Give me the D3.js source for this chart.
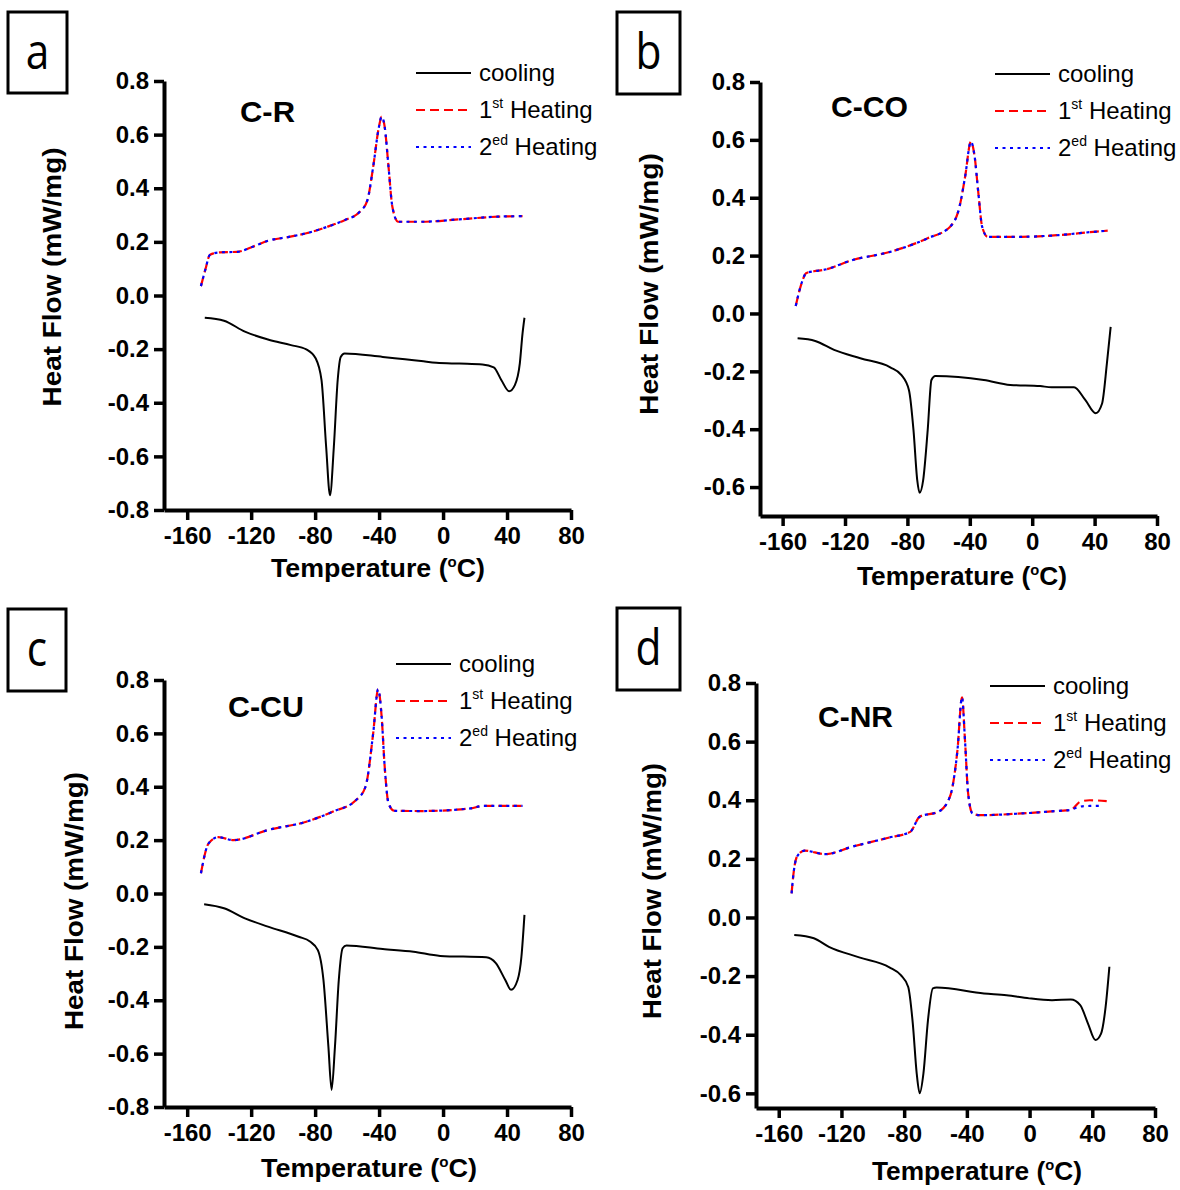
<!DOCTYPE html>
<html>
<head>
<meta charset="utf-8">
<script src="https://cdn.jsdelivr.net/npm/d3@7"></script>
<style>
  body { margin: 0; background: #fff; }
  svg { font-family: "Liberation Sans", Arial, sans-serif; }
</style>
</head>
<body>
<svg id="chart" width="1180" height="1190"></svg>
<script>
// values: [temperature °C, heat flow mW/mg]
const xTicks = [-160, -120, -80, -40, 0, 40, 80];
const yTicksAC = [-0.8, -0.6, -0.4, -0.2, 0.0, 0.2, 0.4, 0.6, 0.8];
const yTicksBD = [-0.6, -0.4, -0.2, 0.0, 0.2, 0.4, 0.6, 0.8];
const legendNames = ["cooling", "1st Heating", "2ed Heating"];
const sampleNames = ["C-R", "C-CO", "C-CU", "C-NR"];
const panelLetters = ["a", "b", "c", "d"];

const aCool = [[-149,-0.083],[-137,-0.094],[-123.9,-0.135],[-109.5,-0.164],[-95.1,-0.185],[-85.5,-0.201],[-79.6,-0.235],[-76,-0.316],[-73.1,-0.565],[-70.7,-0.745],[-68.3,-0.565],[-65.9,-0.316],[-64,-0.229],[-61.6,-0.216],[-37.7,-0.229],[-13.7,-0.244],[-4.2,-0.251],[10.2,-0.254],[24.6,-0.257],[31.7,-0.268],[36.5,-0.316],[41.3,-0.357],[44.9,-0.334],[48,-0.253],[49.7,-0.141],[50.9,-0.083]];
const aHeat1 = [[-151.4,0.035],[-148.5,0.10],[-145.9,0.151],[-143,0.158],[-139.4,0.161],[-128.6,0.163],[-119,0.182],[-109.5,0.204],[-97,0.218],[-85.5,0.232],[-73,0.255],[-61.6,0.281],[-52.1,0.312],[-47.3,0.356],[-43.7,0.48],[-40.1,0.629],[-38.4,0.667],[-36.5,0.629],[-34.1,0.48],[-31.7,0.331],[-28.1,0.275],[-13.7,0.275],[10.2,0.284],[34.1,0.294],[49.7,0.296]];
const aHeat2 = aHeat1;

const bCool = [[-150.4,-0.086],[-139.1,-0.095],[-127,-0.126],[-110.2,-0.155],[-91,-0.186],[-83.8,-0.213],[-79,-0.265],[-76.1,-0.403],[-73.7,-0.576],[-72.2,-0.62],[-69.9,-0.576],[-67,-0.403],[-64.6,-0.23],[-62.1,-0.216],[-31,-0.23],[-14.1,-0.247],[5.1,-0.251],[12.4,-0.255],[26.8,-0.255],[34,-0.299],[40.7,-0.345],[44.8,-0.311],[47.9,-0.172],[50.3,-0.046]];
const bHeat1 = [[-151.6,0.026],[-147.5,0.11],[-145,0.139],[-140,0.146],[-134.3,0.15],[-115,0.185],[-91,0.213],[-67,0.26],[-52.6,0.3],[-46.6,0.369],[-43,0.473],[-39.3,0.594],[-36.9,0.542],[-34.5,0.415],[-32.1,0.3],[-28.5,0.265],[-6.9,0.265],[17.2,0.271],[41.2,0.283],[48.4,0.286]];
const bHeat2 = bHeat1;

const cCool = [[-149.4,-0.04],[-137,-0.055],[-123.9,-0.093],[-109.5,-0.124],[-90.3,-0.162],[-83.2,-0.18],[-78.3,-0.212],[-74.8,-0.324],[-71.7,-0.574],[-69.7,-0.736],[-67.6,-0.574],[-65.2,-0.324],[-62.8,-0.205],[-60.4,-0.195],[-37.7,-0.208],[-18.5,-0.218],[-1.8,-0.234],[27,-0.239],[33,-0.261],[38.9,-0.324],[42.5,-0.361],[46.6,-0.324],[49,-0.237],[50.9,-0.08]];
const cHeat1 = [[-151.4,0.076],[-146.6,0.188],[-140.6,0.211],[-131,0.2],[-109.5,0.238],[-85.5,0.269],[-68.8,0.307],[-54.4,0.35],[-48.5,0.4],[-43.7,0.6],[-40.6,0.765],[-38.4,0.662],[-36.5,0.475],[-34.1,0.338],[-30.5,0.31],[-13.7,0.309],[17.4,0.319],[24.6,0.328],[49.7,0.328]];
const cHeat2 = cHeat1;

const dCool = [[-150.1,-0.06],[-137.6,-0.071],[-128,-0.1],[-108.7,-0.136],[-89.4,-0.17],[-82.1,-0.197],[-77.4,-0.237],[-74.5,-0.361],[-72,-0.532],[-70.1,-0.6],[-67.7,-0.532],[-64.8,-0.35],[-61.7,-0.242],[-59.3,-0.239],[-29.1,-0.259],[-14.7,-0.265],[-0.2,-0.276],[14.3,-0.282],[26.3,-0.28],[32.3,-0.299],[37.2,-0.361],[42,-0.418],[45.6,-0.396],[48.5,-0.305],[50.9,-0.168]];
const dHeat1 = [[-151.8,0.082],[-150.8,0.139],[-148.4,0.207],[-143.6,0.228],[-130.4,0.216],[-113.5,0.241],[-89.4,0.273],[-76.1,0.292],[-70.1,0.344],[-58,0.361],[-50.8,0.412],[-46,0.571],[-43.1,0.751],[-41.2,0.605],[-39.2,0.424],[-36.4,0.355],[-31.5,0.349],[-5,0.355],[19.1,0.364],[26.3,0.367],[32.3,0.395],[38.3,0.4],[49.2,0.397]];
const dHeat2 = [[-151.8,0.082],[-150.8,0.139],[-148.4,0.207],[-143.6,0.228],[-130.4,0.216],[-113.5,0.241],[-89.4,0.273],[-76.1,0.292],[-70.1,0.344],[-58,0.361],[-50.8,0.412],[-46,0.571],[-43.1,0.751],[-41.2,0.605],[-39.2,0.424],[-36.4,0.355],[-31.5,0.349],[-5,0.355],[19.1,0.364],[26.3,0.367],[30,0.375],[35,0.38],[46.8,0.381]];

// layout of each panel (pixels)
const panels = [
  { cool: aCool, h1: aHeat1, h2: aHeat2, yMin: -0.8, yTicks: yTicksAC,
    left: 164, right: 571, top: 81, bottom: 510,
    box: [8, 12, 59, 81], name: [240, 122, 55], legX: 416, legY: 73,
    yTitle: [61, 277, 259], xTitle: [271, 577, 214] },
  { cool: bCool, h1: bHeat1, h2: bHeat2, yMin: -0.7, yTicks: yTicksBD,
    left: 760, right: 1157, top: 82, bottom: 516,
    box: [617, 12, 63, 82], name: [831, 117, 77], legX: 995, legY: 74,
    yTitle: [658, 284, 262], xTitle: [857, 585, 210] },
  { cool: cCool, h1: cHeat1, h2: cHeat2, yMin: -0.8, yTicks: yTicksAC,
    left: 164, right: 571, top: 680, bottom: 1107,
    box: [8, 609, 58, 82], name: [228, 717, 76], legX: 396, legY: 664,
    yTitle: [83, 901, 258], xTitle: [261, 1177, 216] },
  { cool: dCool, h1: dHeat1, h2: dHeat2, yMin: -0.65, yTicks: yTicksBD,
    left: 756, right: 1155, top: 683, bottom: 1108,
    box: [617, 608, 63, 82], name: [818, 727, 75], legX: 990, legY: 686,
    yTitle: [661, 891, 256], xTitle: [872, 1180, 210] }
];

const svg = d3.select("#chart");
svg.append("rect").attr("width", 1180).attr("height", 1190).attr("fill", "#fff");

const styles = [
  { color: "#000", dash: null },
  { color: "#ff0000", dash: "9,5" },
  { color: "#0000ff", dash: "3,4.5" }
];

panels.forEach((p, i) => {
  const g = svg.append("g");
  const x = d3.scaleLinear().domain([-174.5, 80]).range([p.left, p.right]);
  const y = d3.scaleLinear().domain([p.yMin, 0.8]).range([p.bottom, p.top]);

  const line = d3.line()
    .x(d => x(d[0]))
    .y(d => y(d[1]))
    .curve(d3.curveMonotoneX);

  [p.cool, p.h1, p.h2].forEach((series, k) => {
    g.append("path")
      .datum(series)
      .attr("d", line)
      .attr("fill", "none")
      .attr("stroke", styles[k].color)
      .attr("stroke-width", k === 0 ? 2 : 2.2)
      .attr("stroke-dasharray", styles[k].dash);
  });

  // axes
  const xAxis = d3.axisBottom(x).tickValues(xTicks).tickSize(10).tickSizeOuter(0)
    .tickPadding(7).tickFormat(d => String(d));
  const yAxis = d3.axisLeft(y).tickValues(p.yTicks).tickSize(10).tickSizeOuter(0)
    .tickPadding(5).tickFormat(d => d.toFixed(1));

  const gx = g.append("g").attr("transform", `translate(0,${p.bottom})`).call(xAxis);
  const gy = g.append("g").attr("transform", `translate(${p.left},0)`).call(yAxis);
  [gx, gy].forEach(a => {
    a.select(".domain").attr("stroke-width", 4).attr("stroke", "#000");
    a.selectAll(".tick line").attr("stroke-width", 3.5).attr("stroke", "#000");
    a.selectAll("text").attr("font-size", 24).attr("font-weight", "bold")
      .attr("fill", "#000").attr("font-family", "'Liberation Sans', Arial, sans-serif");
  });

  // axis titles
  const xt = g.append("text")
    .attr("x", p.xTitle[0]).attr("y", p.xTitle[1])
    .attr("font-size", 25).attr("font-weight", "bold")
    .attr("textLength", p.xTitle[2]).attr("lengthAdjust", "spacingAndGlyphs");
  xt.append("tspan").text("Temperature (");
  xt.append("tspan").attr("font-size", 14).attr("dy", -10).text("o");
  xt.append("tspan").attr("dy", 10).text("C)");

  g.append("text")
    .attr("transform", `translate(${p.yTitle[0]},${p.yTitle[1]}) rotate(-90)`)
    .attr("text-anchor", "middle")
    .attr("font-size", 25).attr("font-weight", "bold")
    .attr("textLength", p.yTitle[2]).attr("lengthAdjust", "spacingAndGlyphs")
    .text("Heat Flow (mW/mg)");

  // sample name
  g.append("text")
    .attr("x", p.name[0]).attr("y", p.name[1])
    .attr("font-size", 30).attr("font-weight", "bold")
    .attr("textLength", p.name[2]).attr("lengthAdjust", "spacingAndGlyphs")
    .text(sampleNames[i]);

  // panel letter box
  g.append("rect")
    .attr("x", p.box[0]).attr("y", p.box[1])
    .attr("width", p.box[2]).attr("height", p.box[3])
    .attr("fill", "#fff").attr("stroke", "#000").attr("stroke-width", 3);
  const cx = p.box[0] + p.box[2] / 2, cy = p.box[1] + p.box[3] / 2;
  g.append("text")
    .attr("transform", `translate(${cx},${cy + 16}) scale(0.85,1)`)
    .attr("text-anchor", "middle")
    .attr("font-size", 50)
    .attr("font-family", "'Open Sans', 'Liberation Sans', sans-serif")
    .text(panelLetters[i]);

  // legend
  const legStep = 37;
  legendNames.forEach((name, k) => {
    const ly = p.legY + k * legStep;
    g.append("line")
      .attr("x1", p.legX).attr("x2", p.legX + 55)
      .attr("y1", ly).attr("y2", ly)
      .attr("stroke", styles[k].color)
      .attr("stroke-width", 2)
      .attr("stroke-dasharray", styles[k].dash);
    const t = g.append("text").attr("x", p.legX + 63).attr("y", ly + 8)
      .attr("font-size", 24);
    if (k === 0) {
      t.text(name);
    } else {
      t.append("tspan").text(name[0]);
      t.append("tspan").attr("font-size", 14).attr("dy", -10).text(name.slice(1, 3));
      t.append("tspan").attr("dy", 10).text(name.slice(3));
    }
  });
});
</script>
</body>
</html>
